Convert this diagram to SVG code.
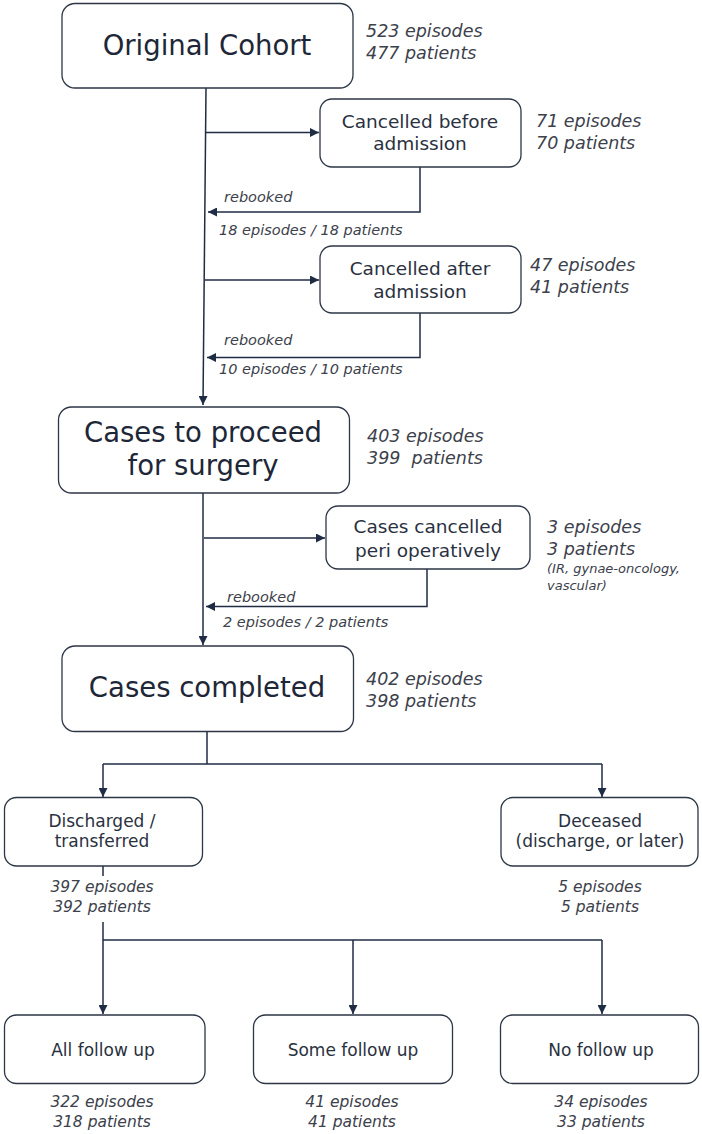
<svg xmlns="http://www.w3.org/2000/svg" width="702" height="1134" viewBox="0 0 702 1134">
<defs>
<marker id="ah" viewBox="0 0 10 10" refX="10" refY="5" markerWidth="9" markerHeight="9" markerUnits="userSpaceOnUse" orient="auto">
<path d="M0,0 L10,5 L0,10 z" fill="#1f2c44"/>
</marker>
<style>
.box{fill:#fff;stroke:#2d3646;stroke-width:1.3}
.ln{fill:none;stroke:#1f2c44;stroke-width:1.5}
.arr{fill:none;stroke:#1f2c44;stroke-width:1.5;marker-end:url(#ah)}
.t{font-family:"DejaVu Sans","Liberation Sans",sans-serif;fill:#1e2737;text-anchor:middle}
.big{font-size:27.5px}
.mid{font-size:18.5px;fill:#2a3140}
.sm{font-size:17px;fill:#2a3140}
.st{font-family:"DejaVu Sans","Liberation Sans",sans-serif;font-style:italic;fill:#3c414b}
.s18{font-size:17.5px}
.s16{font-size:15.5px;text-anchor:middle}
.s15{font-size:14.5px}
.s13{font-size:13px}
</style>
</defs>
<rect width="702" height="1134" fill="#fff"/>

<g id="connectors">
<line class="arr" x1="206" y1="88" x2="203" y2="405"/>
<line class="arr" x1="206" y1="132.5" x2="319" y2="132.5"/>
<polyline class="arr" points="420,167 420,212 208,212"/>
<line class="arr" x1="205" y1="280" x2="319" y2="280"/>
<polyline class="arr" points="420,313 420,357.5 207,357.5"/>
<line class="arr" x1="203" y1="493" x2="203" y2="645"/>
<line class="arr" x1="204" y1="538" x2="325" y2="538"/>
<polyline class="arr" points="427,569 427,606.5 206,606.5"/>
<polyline class="ln" points="207,732 207,764"/>
<polyline class="ln" points="103,764 602,764"/>
<line class="arr" x1="103" y1="764" x2="103" y2="797"/>
<line class="arr" x1="602" y1="764" x2="602" y2="797"/>
<line class="ln" x1="103" y1="866" x2="103" y2="876"/>
<line class="ln" x1="103" y1="922" x2="103" y2="940"/>
<polyline class="ln" points="103,940 602,940"/>
<line class="arr" x1="103" y1="940" x2="103" y2="1014"/>
<line class="arr" x1="353" y1="940" x2="353" y2="1014"/>
<line class="arr" x1="602" y1="940" x2="602" y2="1014"/>
<text class="st s15" x="224" y="202">rebooked</text>
<text class="st s15" x="219" y="235">18 episodes / 18 patients</text>
<text class="st s15" x="224" y="345">rebooked</text>
<text class="st s15" x="219" y="374">10 episodes / 10 patients</text>
<text class="st s15" x="227" y="602">rebooked</text>
<text class="st s15" x="223" y="627">2 episodes / 2 patients</text>
</g>

<g id="original-cohort">
<rect class="box" x="62" y="3.5" width="291" height="84.5" rx="13"/>
<text class="t big" x="207" y="55">Original Cohort</text>
<text class="st s18" x="366" y="37">523 episodes</text>
<text class="st s18" x="366" y="58.5">477 patients</text>
</g>

<g id="cancelled-before">
<rect class="box" x="320" y="99" width="201" height="68" rx="12"/>
<text class="t mid" x="420" y="128">Cancelled before</text>
<text class="t mid" x="420" y="150">admission</text>
<text class="st s18" x="536" y="127">71 episodes</text>
<text class="st s18" x="536" y="148.5">70 patients</text>
</g>

<g id="cancelled-after">
<rect class="box" x="320" y="246" width="201" height="67" rx="12"/>
<text class="t mid" x="420" y="275">Cancelled after</text>
<text class="t mid" x="420" y="298">admission</text>
<text class="st s18" x="530" y="271">47 episodes</text>
<text class="st s18" x="530" y="293">41 patients</text>
</g>

<g id="cases-to-proceed">
<rect class="box" x="58.5" y="407" width="291" height="86" rx="13"/>
<text class="t big" x="203" y="442">Cases to proceed</text>
<text class="t big" x="203" y="475">for surgery</text>
<text class="st s18" x="367" y="442">403 episodes</text>
<text class="st s18" x="367" y="463.5" xml:space="preserve">399  patients</text>
</g>

<g id="cancelled-peri">
<rect class="box" x="326" y="506" width="204" height="63" rx="12"/>
<text class="t mid" x="428" y="533">Cases cancelled</text>
<text class="t mid" x="428" y="556.5">peri operatively</text>
<text class="st s18" x="547" y="533">3 episodes</text>
<text class="st s18" x="547" y="555">3 patients</text>
<text class="st s13" x="547" y="573">(IR, gynae-oncology,</text>
<text class="st s13" x="547" y="590">vascular)</text>
</g>

<g id="cases-completed">
<rect class="box" x="62" y="646" width="291.5" height="85.5" rx="13"/>
<text class="t big" x="207" y="697">Cases completed</text>
<text class="st s18" x="366" y="685">402 episodes</text>
<text class="st s18" x="366" y="707">398 patients</text>
</g>

<g id="discharged">
<rect class="box" x="4.5" y="797.5" width="198" height="68.5" rx="12"/>
<text class="t sm" x="102" y="827">Discharged /</text>
<text class="t sm" x="102" y="847">transferred</text>
<text class="st s16" x="102" y="892">397 episodes</text>
<text class="st s16" x="102" y="912">392 patients</text>
</g>

<g id="deceased">
<rect class="box" x="501" y="797.5" width="197" height="68.5" rx="12"/>
<text class="t sm" x="600" y="827">Deceased</text>
<text class="t sm" x="600" y="847">(discharge, or later)</text>
<text class="st s16" x="600" y="892">5 episodes</text>
<text class="st s16" x="600" y="912">5 patients</text>
</g>

<g id="all-follow-up">
<rect class="box" x="4.5" y="1015" width="200.5" height="68.5" rx="12"/>
<text class="t sm" x="103" y="1055.5">All follow up</text>
<text class="st s16" x="102" y="1107">322 episodes</text>
<text class="st s16" x="102" y="1127">318 patients</text>
</g>

<g id="some-follow-up">
<rect class="box" x="253.5" y="1015" width="199" height="68.5" rx="12"/>
<text class="t sm" x="353" y="1055.5">Some follow up</text>
<text class="st s16" x="352" y="1107">41 episodes</text>
<text class="st s16" x="352" y="1127">41 patients</text>
</g>

<g id="no-follow-up">
<rect class="box" x="500.5" y="1015" width="198" height="68.5" rx="12"/>
<text class="t sm" x="601" y="1055.5">No follow up</text>
<text class="st s16" x="601" y="1107">34 episodes</text>
<text class="st s16" x="601" y="1127">33 patients</text>
</g>
</svg>
